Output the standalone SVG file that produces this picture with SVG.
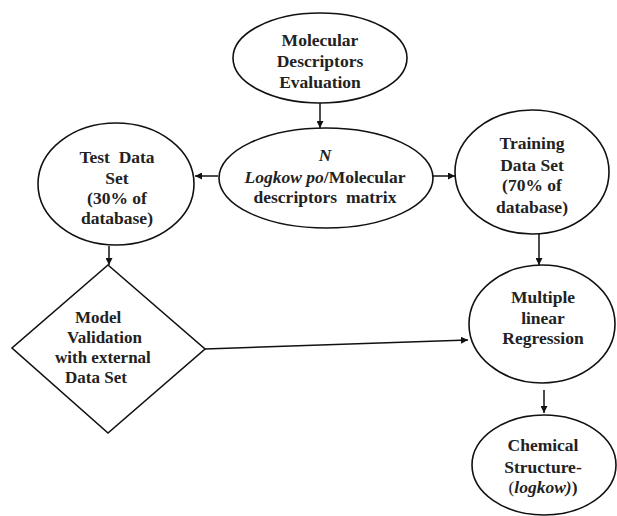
<svg xmlns="http://www.w3.org/2000/svg" width="617" height="516" viewBox="0 0 617 516">
<style>
.n{fill:#fff;stroke:#111;stroke-width:1.6}
.t{font-family:"Liberation Serif","Times New Roman",serif;font-weight:bold;font-size:17.5px;fill:#222;text-anchor:middle;white-space:pre}
.l{text-anchor:start;font-size:17px}
.c{stroke:#111;stroke-width:1.5;fill:none;marker-end:url(#a)}
</style>
<defs>
<marker id="a" viewBox="0 0 10 10" refX="10" refY="5" markerWidth="7" markerHeight="7" markerUnits="userSpaceOnUse" orient="auto">
<path d="M0,0 L10,5 L0,10 z" fill="#111"/>
</marker>
</defs>
<rect width="617" height="516" fill="#fff"/>
<g id="connectors">
<line class="c" x1="320" y1="103" x2="320" y2="128"/>
<line class="c" x1="218" y1="176" x2="195" y2="176"/>
<line class="c" x1="433" y1="176" x2="455" y2="176"/>
<line class="c" x1="109" y1="246" x2="109" y2="265"/>
<line class="c" x1="539" y1="234" x2="539" y2="265"/>
<line class="c" x1="205" y1="349" x2="468" y2="340"/>
<line class="c" x1="544" y1="390" x2="544" y2="413"/>
</g>
<g id="mde">
<ellipse class="n" cx="320" cy="58" rx="87" ry="45"/>
<text class="t" x="320" y="46">Molecular</text>
<text class="t" x="320" y="67">Descriptors</text>
<text class="t" x="320" y="88">Evaluation</text>
</g>
<g id="matrix">
<ellipse class="n" cx="326" cy="178" rx="107" ry="50"/>
<text class="t" x="325" y="161" font-style="italic">N</text>
<text class="t" x="325" y="183"><tspan font-style="italic">Logkow po</tspan>/Molecular</text>
<text class="t" x="325" y="203">descriptors  matrix</text>
</g>
<g id="test">
<ellipse class="n" cx="116" cy="184" rx="78" ry="61"/>
<text class="t" x="117" y="163">Test  Data</text>
<text class="t" x="117" y="184">Set</text>
<text class="t" x="117" y="204">(30% of</text>
<text class="t" x="117" y="224">database)</text>
</g>
<g id="training">
<ellipse class="n" cx="532" cy="172" rx="77" ry="62"/>
<text class="t" x="532" y="149">Training</text>
<text class="t" x="532" y="171">Data Set</text>
<text class="t" x="532" y="191">(70% of</text>
<text class="t" x="532" y="213">database)</text>
</g>
<g id="validation">
<polygon class="n" points="108,265 205,349 108,433 12,348"/>
<text class="t l" x="75" y="323">Model</text>
<text class="t l" x="67" y="343">Validation</text>
<text class="t l" x="55" y="363">with external</text>
<text class="t l" x="65" y="383">Data Set</text>
</g>
<g id="mlr">
<ellipse class="n" cx="542" cy="324" rx="73" ry="59"/>
<text class="t" x="543" y="303">Multiple</text>
<text class="t" x="543" y="324">linear</text>
<text class="t" x="543" y="344">Regression</text>
</g>
<g id="chem">
<ellipse class="n" cx="544" cy="465" rx="72" ry="50"/>
<text class="t" x="543" y="451">Chemical</text>
<text class="t" x="543" y="473">Structure-</text>
<text class="t" x="543" y="493"><tspan font-weight="normal">(</tspan><tspan font-style="italic">logkow)</tspan>)</text>
</g>
</svg>
